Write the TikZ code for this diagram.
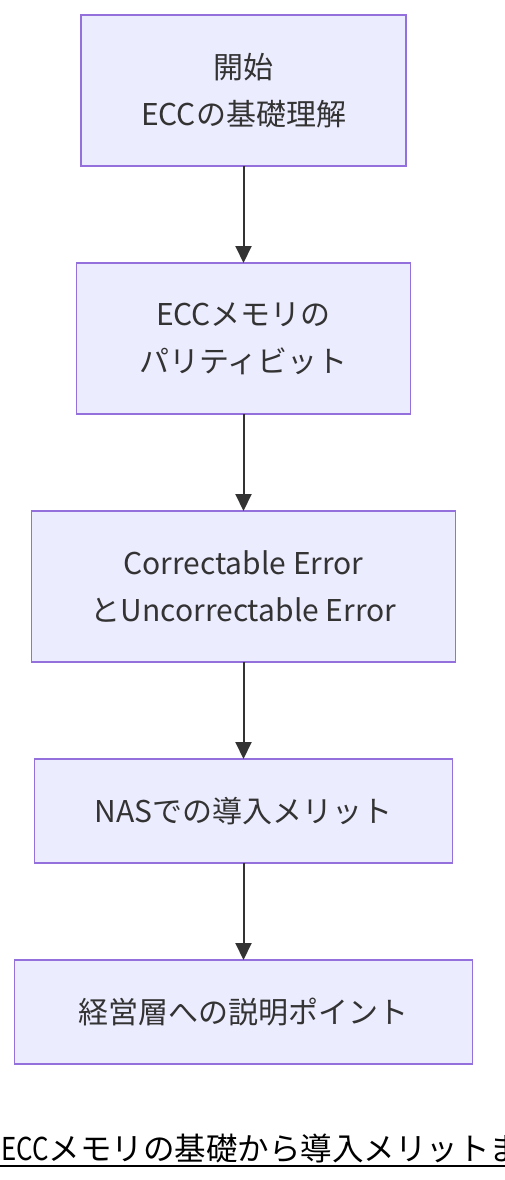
\documentclass[tikz,border=0pt]{standalone}
\usepackage{fontspec}
\setmainfont{Noto Sans CJK JP}
\usepackage{graphicx}
\usepackage{tikz}
\usetikzlibrary{positioning, arrows.meta}
\definecolor{boxfill}{HTML}{ECECFF}
\definecolor{boxline}{HTML}{9370DB}
\definecolor{ink}{HTML}{333333}
\tikzstyle{stepbox} = [rectangle, minimum height=151pt, outer sep=0pt, text centered, align=center, draw=boxline, fill=boxfill, line width=1.5pt, text=ink, font=\fontsize{30}{47}\selectfont]
\tikzstyle{flatbox} = [stepbox, minimum height=104pt]
\tikzstyle{arrow} = [draw=ink, line width=2pt, -{Triangle[width=16pt,length=17pt]}]

\begin{document}
\begin{tikzpicture}[x=1pt, y=-1pt, node distance=97pt]
\useasboundingbox (0,0) rectangle (504,1180);
\node (start) [stepbox, minimum width=325pt] at (243.5,90.5) {開始\\ECCの基礎理解};
\node (parity) [stepbox, minimum width=334pt, below=of start] {ECCメモリの\\パリティビット};
\node (errors) [stepbox, minimum width=424pt, below=of parity] {Correctable Error\\とUncorrectable Error};
\node (nas) [flatbox, minimum width=418pt, below=of errors] {NASでの導入メリット};
\node (mgmt) [flatbox, minimum width=458pt, below=of nas] {経営層への説明ポイント};
\draw [arrow] (start) -- (parity);
\draw [arrow] (parity) -- (errors);
\draw [arrow] (errors) -- (nas);
\draw [arrow] (nas) -- (mgmt);
% caption under the chart, runs past the right edge
\node (caption) [anchor=base west, inner sep=0pt, font=\fontsize{31.5}{36}\selectfont] at (1,1160) {\scalebox{0.82}[1]{ECC}メモリの基礎から導入メリットま};
\draw [line width=2pt] (0,1166) -- (caption.south east |- 0,1166);
\end{tikzpicture}
\end{document}
